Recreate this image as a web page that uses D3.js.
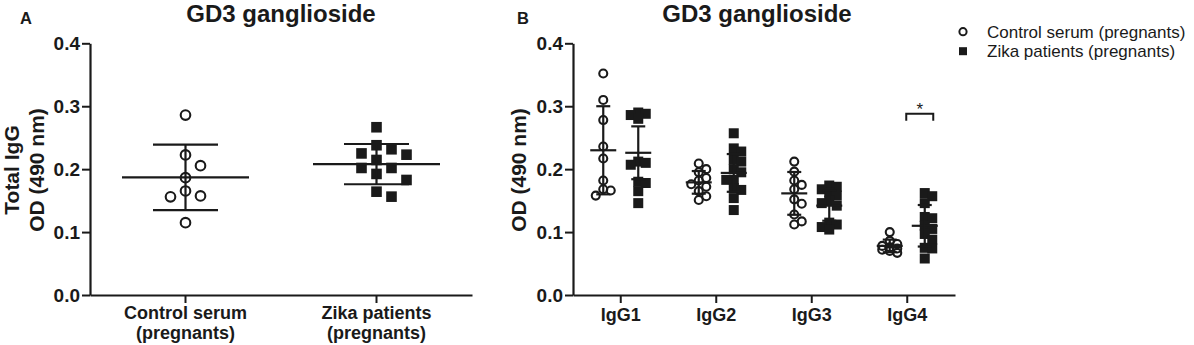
<!DOCTYPE html>
<html>
<head>
<meta charset="utf-8">
<script src="https://cdn.jsdelivr.net/npm/d3@7"></script>
<style>
body { margin: 0; background: #fff; }
text { font-family: "Liberation Sans", Arial, sans-serif; fill: #1a1a1a; }
</style>
</head>
<body>
<script>
// ---- data ----
// panel A: total IgG against GD3
const groupsA = ["Control serum|(pregnants)", "Zika patients|(pregnants)"];
const controlA = [0.286, 0.2226, 0.2056, 0.1865, 0.1653, 0.1574, 0.156, 0.115];
const zikaA = [0.2666, 0.238, 0.2316, 0.225, 0.223, 0.2146, 0.2019, 0.2019, 0.1924, 0.1828, 0.1642, 0.1563];
const meanA = [0.187, 0.208];
const sdA = [0.052, 0.032];

// panel B: IgG subclasses
const subclasses = ["IgG1", "IgG2", "IgG3", "IgG4"];
const seriesNames = ["Control serum (pregnants)", "Zika patients (pregnants)"];
const controlB = [
  [0.352, 0.310, 0.278, 0.236, 0.217, 0.182, 0.168, 0.166, 0.158],
  [0.209, 0.200, 0.195, 0.186, 0.182, 0.176, 0.172, 0.165, 0.157, 0.151],
  [0.212, 0.196, 0.182, 0.175, 0.168, 0.152, 0.145, 0.128, 0.117, 0.112],
  [0.100, 0.086, 0.081, 0.078, 0.076, 0.074, 0.072, 0.070, 0.067]
];
const zikaB = [
  [0.290, 0.288, 0.286, 0.280, 0.212, 0.210, 0.207, 0.180, 0.178, 0.165, 0.146],
  [0.257, 0.233, 0.228, 0.215, 0.212, 0.200, 0.195, 0.183, 0.183, 0.170, 0.167, 0.154, 0.135],
  [0.174, 0.172, 0.168, 0.163, 0.158, 0.150, 0.146, 0.142, 0.115, 0.112, 0.108, 0.104],
  [0.162, 0.157, 0.146, 0.124, 0.122, 0.110, 0.105, 0.097, 0.088, 0.075, 0.074, 0.058]
];
const meanControlB = [0.230, 0.179, 0.1615, 0.078];
const sdControlB = [0.070, 0.018, 0.034, 0.010];
const meanZikaB = [0.226, 0.194, 0.142, 0.110];
const sdZikaB = [0.042, 0.030, 0.024, 0.033];

const yTicks = [0, 0.1, 0.2, 0.3, 0.4];
const sigGroup = "IgG4";   // * between control and zika
const sigLevel = [0.288, 0.277];

const title = "GD3 ganglioside";
const ink = "#1a1a1a";

var width = 1194, height = 345;

var svg = d3.select("body").append("svg")
  .attr("width", width)
  .attr("height", height);

var y = d3.scaleLinear().domain([0, 0.4]).range([295, 43.3]);

// simple column-scatter: push points sideways when they would overlap,
// but never further than maxSlot steps from the centre
function swarm(values, step, minDy, maxSlot) {
  var order = d3.range(values.length).sort((a, b) => values[b] - values[a]);
  var placed = [], off = [];
  var slots = [0];
  for (var s = 1; s <= maxSlot; s++) slots.push(s, -s);
  order.forEach(function(i) {
    var py = y(values[i]);
    var best = null, bestGap = -1;
    for (var k = 0; k < slots.length; k++) {
      var px = slots[k] * step;
      var near = placed.filter(p => Math.abs(p.x - px) < step * 0.9);
      var gap = near.length ? d3.min(near, p => Math.abs(p.y - py)) : Infinity;
      if (gap >= minDy) { best = px; break; }
      if (gap > bestGap) { bestGap = gap; best = px; }
    }
    placed.push({x: best, y: py});
    off[i] = best;
  });
  return off;
}

function drawPoints(g, values, cx, shape, step, minDy, maxSlot, r) {
  var off = swarm(values, step, minDy, maxSlot);
  if (shape === "circle") {
    g.selectAll(null).data(values).enter().append("circle")
      .attr("cx", (d, i) => cx + off[i])
      .attr("cy", d => y(d))
      .attr("r", r)
      .attr("fill", "none")
      .attr("stroke", ink)
      .attr("stroke-width", 2.1);
  } else {
    g.selectAll(null).data(values).enter().append("rect")
      .attr("x", (d, i) => cx + off[i] - r)
      .attr("y", d => y(d) - r)
      .attr("width", r * 2)
      .attr("height", r * 2)
      .attr("fill", ink);
  }
}

function drawErrorBar(g, cx, mean, sd, halfMean, halfCap) {
  var s = g.append("g").attr("stroke", ink).attr("stroke-width", 2.2).attr("fill", "none");
  s.append("line").attr("x1", cx - halfMean).attr("x2", cx + halfMean)
    .attr("y1", y(mean)).attr("y2", y(mean));
  s.append("line").attr("x1", cx).attr("x2", cx)
    .attr("y1", y(mean - sd)).attr("y2", y(mean + sd));
  [mean - sd, mean + sd].forEach(function(v) {
    s.append("line").attr("x1", cx - halfCap).attr("x2", cx + halfCap)
      .attr("y1", y(v)).attr("y2", y(v));
  });
}

function styleAxis(g, size) {
  g.attr("font-family", null).attr("font-size", size).attr("font-weight", "bold");
  g.select(".domain").attr("stroke", ink).attr("stroke-width", 2.2);
  g.selectAll(".tick line").attr("stroke", ink).attr("stroke-width", 2);
  g.selectAll(".tick text").attr("fill", ink);
}

function yAxis(x0) {
  var g = svg.append("g")
    .attr("transform", "translate(" + x0 + ",0)")
    .call(d3.axisLeft(y).tickValues(yTicks).tickFormat(d3.format(".1f"))
      .tickSize(8).tickSizeOuter(0).tickPadding(2));
  styleAxis(g, 19);
}

// ---------- panel A ----------
var xA = d3.scaleBand().domain(groupsA).range([90, 472]);
var gA = svg.append("g");

var dataA = [controlA, zikaA];
var shapes = ["circle", "square"];
groupsA.forEach(function(grp, i) {
  var cx = xA(grp) + xA.bandwidth() / 2;
  drawPoints(gA, dataA[i], cx, shapes[i], 15, 13, 2, i === 0 ? 4.8 : 5.3);
  drawErrorBar(gA, cx, meanA[i], sdA[i], 63.5, 32.5);
});

yAxis(90);
var axA = svg.append("g")
  .attr("transform", "translate(0,295)")
  .call(d3.axisBottom(xA).tickSize(8).tickSizeOuter(0));
styleAxis(axA, 18);
axA.selectAll(".tick text").each(function(d) {
  var t = d3.select(this).text(null).attr("y", 0).attr("dy", null);
  d.split("|").forEach(function(line, k) {
    t.append("tspan").attr("x", 0).attr("y", 23.5 + k * 20).text(line);
  });
});

svg.append("text")
  .attr("transform", "translate(19,170) rotate(-90)")
  .attr("text-anchor", "middle")
  .attr("font-size", 21).attr("font-weight", "bold")
  .text("Total IgG");
svg.append("text")
  .attr("transform", "translate(44,170) rotate(-90)")
  .attr("text-anchor", "middle")
  .attr("font-size", 21).attr("font-weight", "bold")
  .text("OD (490 nm)");

svg.append("text")
  .attr("x", 281).attr("y", 21.5)
  .attr("text-anchor", "middle")
  .attr("font-size", 24).attr("font-weight", "bold")
  .text(title);
svg.append("text")
  .attr("x", 20).attr("y", 23.5)
  .attr("font-size", 16.5).attr("font-weight", "bold")
  .text("A");

// ---------- panel B ----------
var xB = d3.scaleBand().domain(subclasses).range([573, 955]);
var xInner = d3.scalePoint().domain(seriesNames).range([-17.5, 17.5]);
var gB = svg.append("g");

subclasses.forEach(function(sc, i) {
  var c = xB(sc) + xB.bandwidth() / 2;
  var c0 = c + xInner(seriesNames[0]);
  var c1 = c + xInner(seriesNames[1]);
  drawPoints(gB, controlB[i], c0, "circle", 7.5, 7, 1, 4);
  drawPoints(gB, zikaB[i], c1, "square", 7.5, 8, 1, 5);
  drawErrorBar(gB, c0, meanControlB[i], sdControlB[i], 13, 7);
  drawErrorBar(gB, c1, meanZikaB[i], sdZikaB[i], 13, 7);
});

yAxis(573);
var axB = svg.append("g")
  .attr("transform", "translate(0,295)")
  .call(d3.axisBottom(xB).tickSize(8).tickSizeOuter(0));
styleAxis(axB, 18);
axB.selectAll(".tick text").attr("y", 25.7).attr("dy", null);

// significance bracket
var sc4 = xB(sigGroup) + xB.bandwidth() / 2;
var bx0 = sc4 - 1, bx1 = sc4 + xInner(seriesNames[1]) + 8.5;
svg.append("path")
  .attr("d", "M" + bx0 + "," + y(sigLevel[1]) + "V" + y(sigLevel[0]) + "H" + bx1 + "V" + y(sigLevel[1]))
  .attr("fill", "none").attr("stroke", ink).attr("stroke-width", 2);
svg.append("text")
  .attr("x", (bx0 + bx1) / 2).attr("y", y(sigLevel[0]) + 1)
  .attr("text-anchor", "middle")
  .attr("font-size", 17)
  .text("*");

svg.append("text")
  .attr("transform", "translate(526,170) rotate(-90)")
  .attr("text-anchor", "middle")
  .attr("font-size", 21).attr("font-weight", "bold")
  .text("OD (490 nm)");

svg.append("text")
  .attr("x", 757).attr("y", 21.5)
  .attr("text-anchor", "middle")
  .attr("font-size", 24).attr("font-weight", "bold")
  .text(title);
svg.append("text")
  .attr("x", 517).attr("y", 23.5)
  .attr("font-size", 16.5).attr("font-weight", "bold")
  .text("B");

// legend
var legend = svg.append("g").attr("transform", "translate(963,31.7)");
seriesNames.forEach(function(name, i) {
  var row = legend.append("g").attr("transform", "translate(0," + i * 19.5 + ")");
  if (i === 0) {
    row.append("circle").attr("r", 3.6).attr("fill", "none")
      .attr("stroke", ink).attr("stroke-width", 2);
  } else {
    row.append("rect").attr("x", -4).attr("y", -4).attr("width", 8).attr("height", 8)
      .attr("fill", ink);
  }
  row.append("text")
    .attr("x", 24).attr("dy", "0.35em")
    .attr("font-size", 17)
    .text(name);
});
</script>
</body>
</html>
